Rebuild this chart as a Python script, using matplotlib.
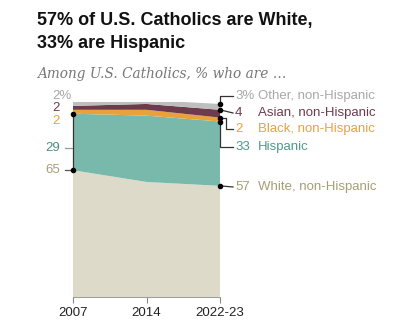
import matplotlib
matplotlib.use("Agg")
import matplotlib.pyplot as plt
import numpy as np

years = ["2007", "2014", "2022-23"]
white = [65, 59, 57]
hispanic = [29, 34, 33]
black = [2, 3, 2]
asian = [2, 3, 4]
other = [2, 2, 3]

names = ["White, non-Hispanic", "Hispanic", "Black, non-Hispanic", "Asian, non-Hispanic", "Other, non-Hispanic"]
fills = ["#DDDACA", "#79B9AC", "#E9A23B", "#6E3B4D", "#BEBEBE"]
txtc = ["#A69E74", "#4E9A88", "#E9A23B", "#6E3B4D", "#A8A8A8"]

W, H = 414, 327
fig = plt.figure(figsize=(W / 100, H / 100), dpi=100)
x0p, x1p, ybp, ytp = 73, 220, 297, 102
ax = fig.add_axes([x0p / W, 1 - ybp / H, (x1p - x0p) / W, (ybp - ytp) / H])
x = np.arange(len(years))
series = [white, hispanic, black, asian, other]
ax.stackplot(x, *series, colors=fills, linewidth=0)
ax.set_xlim(0, 2)
ax.set_ylim(0, 100)
for s in ["top", "right", "left"]:
    ax.spines[s].set_visible(False)
ax.spines["bottom"].set_color("#999999")
ax.spines["bottom"].set_linewidth(0.7)
ax.set_yticks([])
ax.set_xticks(x)
ax.set_xticklabels(years, fontsize=9.5, family="Liberation Sans", color="#222222")
ax.tick_params(axis="x", length=4, color="#888888", width=0.8, pad=3)

ppu = (ybp - ytp) / 100.0
xpu = (x1p - x0p) / 2.0
def dy(ypx):
    return (ybp - ypx) / ppu
def dx(xpx):
    return (xpx - x0p) / xpu

cum = np.cumsum(np.array(series), axis=0)
lc = "#333333"
kw = dict(clip_on=False, color=lc, lw=0.9, zorder=5)
fnt = dict(family="Liberation Sans", fontsize=9.5, va="center", clip_on=False)

# left side (2007)
ax.plot([0, 0], [cum[0][0], cum[1][0]], **kw)
ax.plot([0, 0], [cum[0][0], cum[1][0]], "o", ms=3, color="black", clip_on=False, zorder=6)
ax.plot([dx(65), 0], [dy(148), dy(148)], clip_on=False, color="#999999", lw=0.9)
ax.plot([dx(65), 0], [cum[0][0], cum[0][0]], clip_on=False, color="#555555", lw=0.9)
ax.text(dx(60), cum[0][0], f"{white[0]}", ha="right", color=txtc[0], **fnt)
ax.text(dx(60), dy(148), f"{hispanic[0]}", ha="right", color="#4E8F80", **fnt)
ax.text(dx(60), dy(121), f"{black[0]}", ha="right", color=txtc[2], **fnt)
ax.text(dx(60), dy(108), f"{asian[0]}", ha="right", color=txtc[3], **fnt)
ax.text(dx(52), dy(96), f"{other[0]}%", ha="left", color=txtc[4], **fnt)

# right side (2022-23)
xe = 2
lab_y = [dy(187), dy(147), dy(129), dy(113), dy(96)]
vals = [white[-1], hispanic[-1], black[-1], asian[-1], other[-1]]
tops = [cum[i][-1] for i in range(5)]
xt = dx(233)
ax.plot([xe, xt], [tops[0], lab_y[0]], **kw)
ax.plot([xe, xe, xt], [tops[1], lab_y[1], lab_y[1]], **kw)
xb = dx(226)
ax.plot([xe, xb, xb, xt], [tops[2], tops[2], lab_y[2], lab_y[2]], **kw)
ax.plot([xe, xt], [tops[3], lab_y[3]], **kw)
ax.plot([xe, xe, xt], [tops[4], lab_y[4], lab_y[4]], **kw)
ax.plot([xe] * 5, tops, "o", ms=3, color="black", clip_on=False, zorder=6)

xn = dx(235)
xl = dx(258)
for i in range(5):
    num = f"{vals[i]}%" if i == 4 else f"{vals[i]}"
    ax.text(xn, lab_y[i], num, ha="left", color=txtc[i], **fnt)
    ax.text(xl, lab_y[i], names[i], ha="left", color=txtc[i], **fnt)

fig.text(37 / W, 1 - 21 / H, "57% of U.S. Catholics are White,", fontsize=13,
         fontweight="bold", family="Liberation Sans", va="center", color="#111111")
fig.text(37 / W, 1 - 44 / H, "33% are Hispanic", fontsize=13,
         fontweight="bold", family="Liberation Sans", va="center", color="#111111")
fig.text(37 / W, 1 - 74 / H, "Among U.S. Catholics, % who are \u2026", fontsize=9.8,
         style="italic", family="DejaVu Serif", va="center", color="#777777")

fig.savefig("out.png", dpi=100)
